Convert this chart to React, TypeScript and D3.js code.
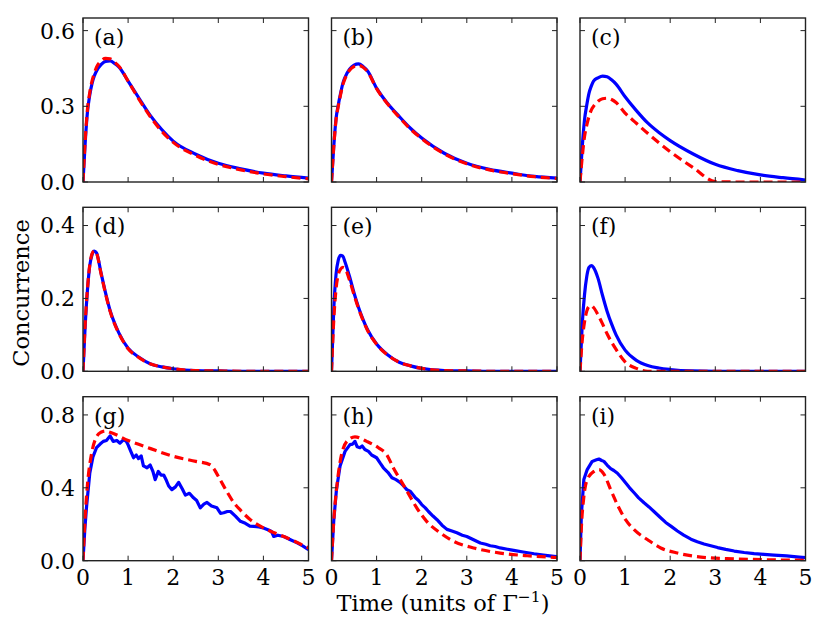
import { curveLinear, curveMonotoneX, line, scaleLinear } from 'd3';

const width = 830;
const height = 623;
const colLeft = [83, 331.5, 580];
const rowTop = [18, 207.3, 396.7];
const panelW = 225.5;
const panelH = 164;
const fontFamily = '"DejaVu Serif", serif';
const tickFont = 22;
const labelFont = 22.5;

// shared time grid for the smooth panels
const T = [0, 0.05, 0.1, 0.15, 0.2, 0.25, 0.3, 0.4, 0.5, 0.6, 0.7, 0.8, 1.0, 1.25, 1.5, 1.75, 2.0, 2.5, 3.0, 3.5, 4.0, 4.5, 5.0];

const aBlue = [0, 0.16, 0.28, 0.345, 0.39, 0.42, 0.44, 0.465, 0.478, 0.48, 0.47, 0.455, 0.4, 0.33, 0.262, 0.207, 0.162, 0.11, 0.074, 0.052, 0.035, 0.024, 0.015];
const aRed = [0, 0.17, 0.29, 0.355, 0.4, 0.43, 0.455, 0.48, 0.49, 0.488, 0.475, 0.458, 0.4, 0.325, 0.257, 0.2, 0.157, 0.105, 0.07, 0.048, 0.032, 0.021, 0.013];
const bBlue = [0, 0.14, 0.25, 0.305, 0.35, 0.39, 0.415, 0.447, 0.463, 0.468, 0.458, 0.44, 0.372, 0.31, 0.26, 0.213, 0.174, 0.114, 0.074, 0.05, 0.035, 0.022, 0.015];
const bRed = [0, 0.14, 0.245, 0.3, 0.345, 0.385, 0.41, 0.443, 0.458, 0.462, 0.455, 0.437, 0.37, 0.308, 0.257, 0.21, 0.172, 0.112, 0.072, 0.048, 0.033, 0.021, 0.014];
const cBlue = [0, 0.14, 0.246, 0.305, 0.352, 0.38, 0.4, 0.413, 0.42, 0.417, 0.405, 0.388, 0.338, 0.283, 0.234, 0.196, 0.164, 0.112, 0.07, 0.045, 0.028, 0.017, 0.008];
const cRed = [0, 0.1, 0.18, 0.225, 0.26, 0.285, 0.3, 0.32, 0.33, 0.332, 0.327, 0.315, 0.273, 0.233, 0.193, 0.155, 0.12, 0.058, 0.002, 0, 0, 0, 0];
const dBlue = [0, 0.13, 0.225, 0.29, 0.32, 0.33, 0.325, 0.27, 0.215, 0.167, 0.132, 0.104, 0.063, 0.038, 0.02, 0.012, 0.007, 0.002, 0.001, 0, 0, 0, 0];
const dRed = [0, 0.135, 0.228, 0.292, 0.322, 0.33, 0.324, 0.268, 0.213, 0.165, 0.13, 0.103, 0.062, 0.037, 0.02, 0.012, 0.007, 0.002, 0.001, 0, 0, 0, 0];
const eBlue = [0, 0.17, 0.265, 0.305, 0.318, 0.316, 0.3, 0.26, 0.215, 0.175, 0.142, 0.114, 0.075, 0.045, 0.025, 0.015, 0.008, 0.002, 0.001, 0, 0, 0, 0];
const eRed = [0, 0.14, 0.225, 0.265, 0.28, 0.285, 0.282, 0.25, 0.21, 0.172, 0.14, 0.112, 0.074, 0.044, 0.025, 0.015, 0.008, 0.002, 0.001, 0, 0, 0, 0];
const fBlue = [0, 0.13, 0.21, 0.26, 0.285, 0.29, 0.285, 0.255, 0.208, 0.165, 0.13, 0.1, 0.058, 0.03, 0.016, 0.009, 0.005, 0.001, 0, 0, 0, 0, 0];
const fRed = [0, 0.085, 0.135, 0.165, 0.178, 0.18, 0.175, 0.155, 0.13, 0.103, 0.08, 0.06, 0.026, 0.008, 0, 0, 0, 0, 0, 0, 0, 0, 0];

// bottom row: noisy trajectories, read as [time, concurrence]
const gBlue: [number, number][] = [
	[0, 0], [0.04, 0.17], [0.08, 0.3], [0.15, 0.48], [0.22, 0.57], [0.3, 0.62], [0.38, 0.64], [0.45, 0.655],
	[0.52, 0.66], [0.6, 0.685], [0.67, 0.655], [0.75, 0.66], [0.82, 0.645], [0.9, 0.665], [0.96, 0.655], [1.0, 0.636],
	[1.06, 0.6], [1.12, 0.565], [1.18, 0.58], [1.23, 0.56], [1.29, 0.575], [1.34, 0.52], [1.42, 0.51], [1.49, 0.525],
	[1.55, 0.49], [1.6, 0.445], [1.67, 0.49], [1.73, 0.47], [1.79, 0.47], [1.85, 0.44], [1.9, 0.41], [1.97, 0.39],
	[2.05, 0.405], [2.12, 0.43], [2.2, 0.395], [2.27, 0.36], [2.36, 0.37], [2.45, 0.345], [2.52, 0.33], [2.6, 0.29],
	[2.68, 0.31], [2.75, 0.32], [2.85, 0.3], [2.97, 0.29], [3.05, 0.26], [3.12, 0.263], [3.2, 0.27], [3.27, 0.27],
	[3.38, 0.245], [3.49, 0.216], [3.6, 0.205], [3.7, 0.19], [3.79, 0.188], [3.9, 0.185], [4.0, 0.18], [4.1, 0.17],
	[4.18, 0.16], [4.23, 0.133], [4.32, 0.14], [4.45, 0.133], [4.6, 0.115], [4.75, 0.098], [4.88, 0.08], [5.0, 0.06],
];
const gRed: [number, number][] = [
	[0, 0], [0.05, 0.25], [0.1, 0.42], [0.2, 0.6], [0.3, 0.68], [0.4, 0.705], [0.5, 0.712], [0.6, 0.705],
	[1.0, 0.66], [1.5, 0.615], [2.0, 0.573], [2.5, 0.545], [2.82, 0.527], [2.9, 0.505], [3.04, 0.445], [3.2, 0.375],
	[3.34, 0.32], [3.5, 0.275], [3.71, 0.225], [4.0, 0.18], [4.45, 0.133], [4.75, 0.1], [5.0, 0.07],
];
const hBlue: [number, number][] = [
	[0, 0], [0.05, 0.22], [0.11, 0.39], [0.19, 0.52], [0.3, 0.6], [0.41, 0.637], [0.47, 0.64], [0.52, 0.655],
	[0.57, 0.625], [0.63, 0.62], [0.68, 0.63], [0.74, 0.61], [0.82, 0.6], [0.89, 0.58], [1.0, 0.565], [1.08, 0.535],
	[1.15, 0.51], [1.25, 0.485], [1.34, 0.455], [1.43, 0.445], [1.52, 0.43], [1.6, 0.41], [1.67, 0.39], [1.75, 0.38],
	[1.86, 0.345], [1.93, 0.33], [2.0, 0.308], [2.08, 0.29], [2.15, 0.27], [2.25, 0.245], [2.34, 0.225], [2.45, 0.195],
	[2.56, 0.172], [2.67, 0.163], [2.78, 0.153], [2.9, 0.14], [3.0, 0.133], [3.15, 0.115], [3.3, 0.097], [3.42, 0.09],
	[3.52, 0.082], [3.63, 0.078], [3.74, 0.07], [3.9, 0.063], [4.04, 0.057], [4.25, 0.048], [4.49, 0.038], [4.7, 0.031],
	[4.93, 0.024], [5.0, 0.022],
];
const hRed: [number, number][] = [
	[0, 0], [0.05, 0.22], [0.11, 0.39], [0.19, 0.54], [0.34, 0.655], [0.52, 0.68], [0.78, 0.655], [1.04, 0.62],
	[1.23, 0.58], [1.37, 0.51], [1.56, 0.43], [1.74, 0.353], [1.89, 0.29], [2.11, 0.216], [2.41, 0.153], [2.71, 0.106],
	[3.15, 0.07], [3.74, 0.042], [4.34, 0.027], [4.93, 0.018], [5.0, 0.017],
];
const iBlue: [number, number][] = [
	[0, 0], [0.03, 0.25], [0.085, 0.445], [0.16, 0.5], [0.27, 0.545], [0.35, 0.552], [0.42, 0.558], [0.48, 0.55],
	[0.53, 0.545], [0.6, 0.525], [0.68, 0.505], [0.75, 0.495], [0.83, 0.48], [0.92, 0.455], [1.01, 0.428], [1.1, 0.4],
	[1.2, 0.373], [1.3, 0.345], [1.42, 0.318], [1.53, 0.295], [1.64, 0.27], [1.77, 0.24], [1.9, 0.21], [2.03, 0.187],
	[2.16, 0.163], [2.3, 0.14], [2.46, 0.118], [2.6, 0.104], [2.75, 0.092], [2.9, 0.082], [3.05, 0.072], [3.23, 0.062],
	[3.42, 0.053], [3.64, 0.045], [3.86, 0.039], [4.08, 0.035], [4.3, 0.031], [4.58, 0.026], [4.86, 0.02], [5.0, 0.017],
];
const iRed: [number, number][] = [
	[0, 0], [0.03, 0.18], [0.085, 0.35], [0.16, 0.445], [0.31, 0.49], [0.42, 0.5], [0.53, 0.475], [0.68, 0.39],
	[0.83, 0.307], [1.01, 0.225], [1.2, 0.17], [1.5, 0.115], [1.79, 0.07], [2.16, 0.042], [2.68, 0.02], [3.42, 0.01],
	[4.2, 0.005], [5.0, 0.002],
];

const xTicks = [0, 1, 2, 3, 4, 5];
const rowYMax = [0.65, 0.45, 0.9];
const rowYTicks = [[0, 0.3, 0.6], [0, 0.2, 0.4], [0, 0.4, 0.8]];
const panelNames = ['(a)', '(b)', '(c)', '(d)', '(e)', '(f)', '(g)', '(h)', '(i)'];

const onGrid = (vals: number[]): [number, number][] => vals.map((v, i) => [T[i], v]);

const panels = [
	{ blue: onGrid(aBlue), red: onGrid(aRed), noisy: false },
	{ blue: onGrid(bBlue), red: onGrid(bRed), noisy: false },
	{ blue: onGrid(cBlue), red: onGrid(cRed), noisy: false },
	{ blue: onGrid(dBlue), red: onGrid(dRed), noisy: false },
	{ blue: onGrid(eBlue), red: onGrid(eRed), noisy: false },
	{ blue: onGrid(fBlue), red: onGrid(fRed), noisy: false },
	{ blue: gBlue, red: gRed, noisy: true },
	{ blue: hBlue, red: hRed, noisy: true },
	{ blue: iBlue, red: iRed, noisy: true },
];

const fmt = (v: number) => v.toFixed(1);

const Panel = ({ idx }: { idx: number }) => {
	const row = Math.floor(idx / 3);
	const col = idx % 3;
	const x0 = colLeft[col];
	const y0 = rowTop[row];
	const p = panels[idx];
	const xScale = scaleLinear().domain([0, 5]).range([0, panelW]);
	const yScale = scaleLinear().domain([0, rowYMax[row]]).range([panelH, 0]);
	const mk = (curve: any) =>
		line<[number, number]>()
			.curve(curve)
			.x(d => xScale(d[0]))
			.y(d => yScale(d[1]));
	const blueLine = mk(p.noisy ? curveLinear : curveMonotoneX);
	const redLine = mk(curveMonotoneX);
	const clipId = `clip-${idx}`;
	const tickLen = 5;
	return (
		<g transform={`translate(${x0},${y0})`}>
			<defs>
				<clipPath id={clipId}>
					<rect x={0} y={-2} width={panelW} height={panelH + 2} />
				</clipPath>
			</defs>
			<g clipPath={`url(#${clipId})`}>
				<path d={blueLine(p.blue) || ''} fill="none" stroke="#0000ff" strokeWidth={3.2} strokeLinejoin="round" />
				<path d={redLine(p.red) || ''} fill="none" stroke="#ff0000" strokeWidth={3.2} strokeDasharray="9,5" />
			</g>
			{xTicks.map(t => (
				<g key={`x${t}`} transform={`translate(${xScale(t)},0)`}>
					<line y1={0} y2={tickLen} stroke="#222" strokeWidth={1} />
					<line y1={panelH} y2={panelH - tickLen} stroke="#222" strokeWidth={1} />
					{row === 2 && (
						<text y={panelH + 24} textAnchor="middle" fontSize={tickFont} fontFamily={fontFamily}>
							{t}
						</text>
					)}
				</g>
			))}
			{rowYTicks[row].map(v => (
				<g key={`y${v}`} transform={`translate(0,${yScale(v)})`}>
					<line x1={0} x2={tickLen} stroke="#222" strokeWidth={1} />
					<line x1={panelW} x2={panelW - tickLen} stroke="#222" strokeWidth={1} />
					{col === 0 && (
						<text x={-8} dy="0.36em" textAnchor="end" fontSize={tickFont} fontFamily={fontFamily}>
							{fmt(v)}
						</text>
					)}
				</g>
			))}
			<rect x={0} y={0} width={panelW} height={panelH} fill="none" stroke="#222" strokeWidth={1.4} />
			<text x={11} y={27} fontSize={tickFont} fontFamily={fontFamily}>
				{panelNames[idx]}
			</text>
		</g>
	);
};

const App = () => (
	<svg
		width={width}
		height={height}
		style={{ position: 'absolute', left: 0, top: 0, background: '#fff' }}
	>
		{panels.map((_, i) => (
			<Panel key={i} idx={i} />
		))}
		<text
			textAnchor="middle"
			fontSize={labelFont}
			fontFamily={fontFamily}
			transform={`translate(29,293) rotate(-90)`}
		>
			Concurrence
		</text>
		<text x={443} y={611} textAnchor="middle" fontSize={labelFont} fontFamily={fontFamily}>
			Time (units of Γ
			<tspan dy={-9} fontSize={15.5}>−1</tspan>
			<tspan dy={9}>)</tspan>
		</text>
	</svg>
);

export default App;
